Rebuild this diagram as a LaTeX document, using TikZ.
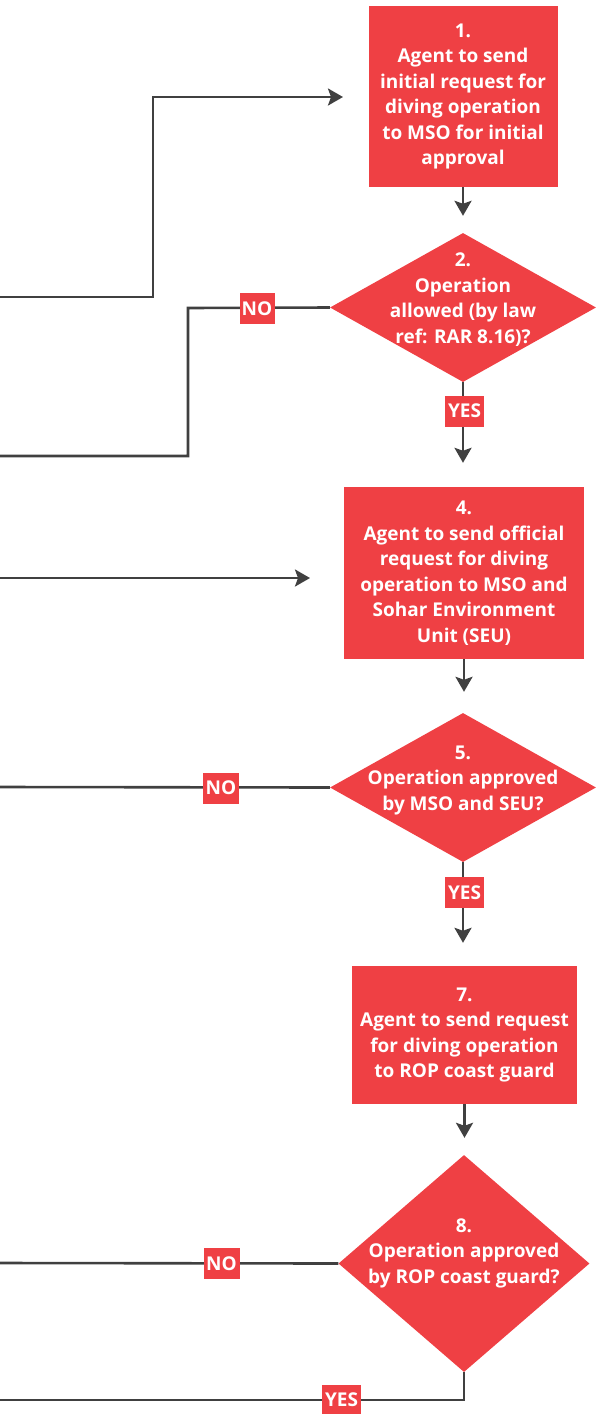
\documentclass[tikz,border=0pt]{standalone}
\usepackage{fontspec}
\setmainfont{Open Sans}
\usetikzlibrary{arrows.meta,shapes.geometric}
\definecolor{flowred}{RGB}{239,64,68}
\definecolor{wire}{RGB}{64,64,64}
\begin{document}
\begin{tikzpicture}[x=1pt,y=-1pt,
  every node/.style={font=\bfseries\fontsize{19}{25.5}\selectfont, text=white},
  stepbox/.style={rectangle, fill=flowred, inner sep=0pt, align=center},
  decision/.style={diamond, fill=flowred, inner sep=0pt, aspect=1},
  decisiontext/.style={align=center, inner sep=0pt},
  tag/.style={rectangle, fill=flowred, inner sep=0pt, minimum height=31pt},
  wireline/.style={draw=wire, line width=2.6pt},
  flow/.style={wireline, -{Stealth[length=15pt,width=17pt,inset=3pt]}},
]
\useasboundingbox (0,0) rectangle (596,1414);

% process steps
\node[stepbox, minimum width=189pt, minimum height=181pt] (b1) at (463,96.5)
  {1.\\Agent to send\\initial request for\\diving operation\\to MSO for initial\\approval};
\node[stepbox, minimum width=240pt, minimum height=172pt] (b4) at (464,573)
  {4.\\Agent to send official\\request for diving\\operation to MSO and\\Sohar Environment\\Unit (SEU)};
\node[stepbox, minimum width=225pt, minimum height=138pt] (b7) at (464.5,1035)
  {7.\\Agent to send request\\for diving operation\\to ROP coast guard};

% decisions
\node[decision, minimum width=266pt, minimum height=149pt] (d2) at (463,307.5) {};
\node[decisiontext] (t2) at (463,299.5) {2.\\Operation\\allowed (by law\\ref: RAR 8.16)?};
\node[decision, minimum width=266pt, minimum height=149pt] (d5) at (463,787.5) {};
\node[decisiontext] (t5) at (463,780) {5.\\Operation approved\\by MSO and SEU?};
\node[decision, minimum width=251pt, minimum height=217pt] (d8) at (464,1263.5) {};
\node[decisiontext] (t8) at (464,1253) {8.\\Operation approved\\by ROP coast guard?};

% loose ends at the left margin
\coordinate (in1) at (0,297);
\coordinate (in4) at (0,578);
\coordinate (no2) at (0,456);
\coordinate (no5) at (0,787);
\coordinate (no8) at (0,1263);
\coordinate (yes8) at (0,1400);
\coordinate (a1) at (343,97);
\coordinate (a4) at (310,578);

% incoming arrows
\draw[flow] (in1) -- (153,297) -- (153,97) -- (a1);
\draw[flow] (in4) -- (a4);

% step-to-step arrows
\draw[flow, shorten >=17pt] (b1.south) -- (d2.north);
\draw[flow, shorten >=24pt] (d2.south) -- (d2.south |- b4.north);
\draw[flow, shorten >=21pt] (b4.south) -- (b4.south |- d5.north);
\draw[flow, shorten >=23pt] (d5.south) -- (d5.south |- b7.north);
\draw[flow, shorten >=17pt] (b7.south) -- (b7.south |- d8.north);

% NO branches
\draw[wireline] (d2.west) -- (188,308) -- (188,456) -- (no2);
\draw[wireline] (d5.west) -- (no5);
\draw[wireline] (d8.west) -- (no8);
% YES from the last decision
\draw[wireline] (d8.south) -- (464,1400) -- (yes8);

% branch tags
\node[tag, minimum width=35pt] (n2) at (257,308.5) {NO};
\node[tag, minimum width=39pt] (y2) at (464.5,411) {YES};
\node[tag, minimum width=36pt] (n5) at (221,788) {NO};
\node[tag, minimum width=39pt] (y5) at (464.5,892.5) {YES};
\node[tag, minimum width=36pt] (n8) at (221.5,1263.5) {NO};
\node[tag, minimum width=39pt] (y8) at (341.5,1400) {YES};
\end{tikzpicture}
\end{document}
